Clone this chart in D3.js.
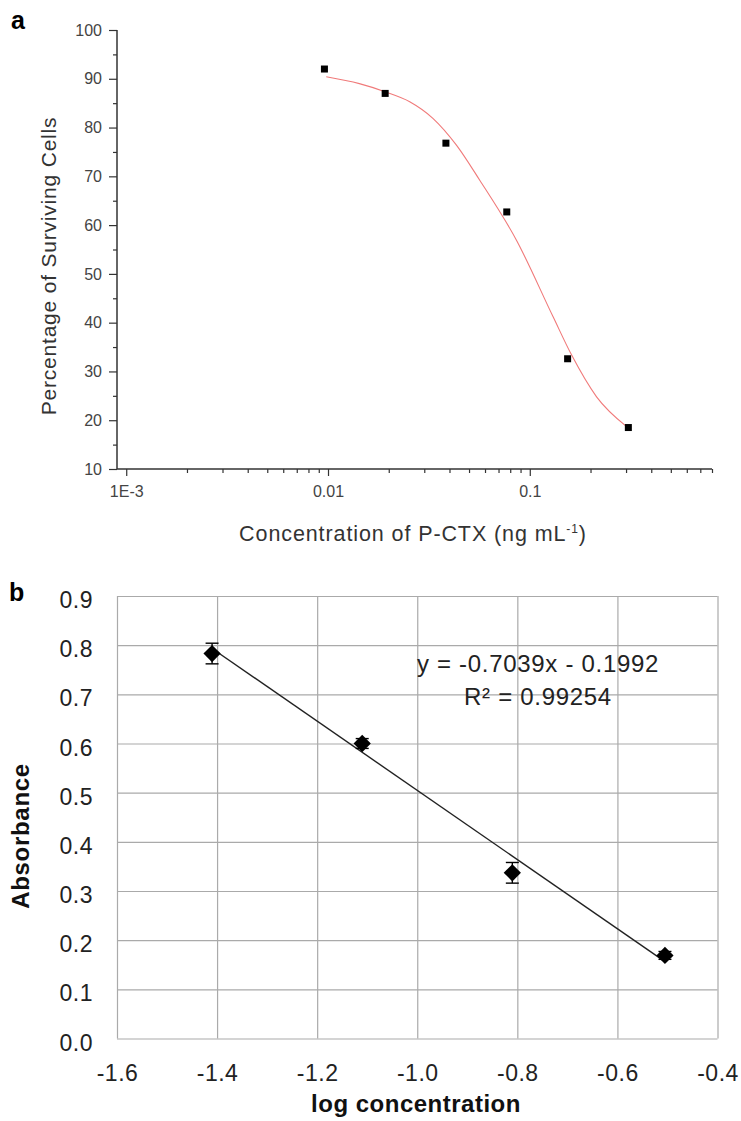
<!DOCTYPE html>
<html>
<head>
<meta charset="utf-8">
<script src="https://cdn.jsdelivr.net/npm/d3@7"></script>
<style>
  body { margin: 0; background: #fff; }
  text { font-family: "Liberation Sans", Arial, sans-serif; }
</style>
</head>
<body>
<svg id="chart" width="741" height="1121"></svg>
<script>

//
//**   Dane   **/
//

// panel a - cell survival vs concentration
var concA = [0.0096, 0.0192, 0.0384, 0.0769, 0.154, 0.308];
var survA = [92.0, 87.0, 76.8, 62.7, 32.6, 18.5];

// fitted curve
var fitConc = [0.0098, 0.0143, 0.0193, 0.0254, 0.0331, 0.0433, 0.0565, 0.0859, 0.1305, 0.161, 0.2143, 0.302];
var fitSurv = [90.4, 89.0, 87.3, 85.3, 81.9, 76.4, 69.2, 56.9, 41.2, 33.4, 24.8, 18.7];

var yTicksA = [10, 20, 30, 40, 50, 60, 70, 80, 90, 100];
var xTicksA = [0.001, 0.01, 0.1];
var xTickLabelsA = ["1E-3", "0.01", "0.1"];

// panel b - calibration
var logConcB = [-1.41, -1.11, -0.81, -0.505];
var absB = [0.783, 0.600, 0.337, 0.169];
var errB = [0.021, 0.010, 0.021, 0.008];
var slopeB = -0.7039;
var interceptB = -0.1992;
var eqLabels = ["y = -0.7039x - 0.1992", "R² = 0.99254"];

var yTicksB = [0, 0.1, 0.2, 0.3, 0.4, 0.5, 0.6, 0.7, 0.8, 0.9];
var xTicksB = [-1.6, -1.4, -1.2, -1.0, -0.8, -0.6, -0.4];

var svg = d3.select("#chart");

//
//**   Panel a   **/
//

svg.append("text")
    .attr("x", 11).attr("y", 29)
    .style("font-size", "25px")
    .style("font-weight", "bold")
    .text("a");

var xA = d3.scaleLog()
    .domain([0.0009, 0.8])
    .range([117, 712]);

var yA = d3.scaleLinear()
    .domain([10, 100])
    .range([469, 30]);

// minor ticks on the log axis
var minorA = [];
[0.001, 0.01, 0.1].forEach(function(dec) {
    for (var k = 2; k <= 9; k++) {
        if (dec * k <= 0.8) minorA.push(dec * k);
    }
});

var gXA = svg.append("g")
    .attr("transform", "translate(0,469)");

gXA.append("g")
    .call(d3.axisBottom(xA).tickValues(minorA).tickSize(4).tickFormat(""))
    .call(function(g) { g.select(".domain").remove(); });

gXA.append("g")
    .call(d3.axisBottom(xA)
        .tickValues(xTicksA)
        .tickSize(7)
        .tickPadding(10)
        .tickFormat(function(d, i) { return xTickLabelsA[i]; }))
    .call(function(g) { g.select(".domain").remove(); });

gXA.append("line")
    .attr("x1", 117).attr("x2", 712)
    .style("stroke", "#333").style("stroke-width", 1.5);

var gYA = svg.append("g")
    .attr("transform", "translate(117,0)");

gYA.append("g")
    .call(d3.axisLeft(yA).tickValues(d3.range(15, 100, 10)).tickSize(4).tickFormat(""))
    .call(function(g) { g.select(".domain").remove(); });

gYA.append("g")
    .call(d3.axisLeft(yA)
        .tickValues(yTicksA)
        .tickSize(8)
        .tickPadding(7))
    .call(function(g) { g.select(".domain").remove(); });

gYA.append("line")
    .attr("y1", 30).attr("y2", 469)
    .style("stroke", "#333").style("stroke-width", 1.5);

svg.selectAll("g").selectAll(".tick line")
    .style("stroke", "#333")
    .style("stroke-width", 1.2);

gXA.selectAll(".tick text")
    .style("font-size", "16px")
    .style("fill", "#444")
    .style("font-family", "'Liberation Sans', Arial, sans-serif");

gYA.selectAll(".tick text")
    .style("font-size", "16px")
    .style("fill", "#444")
    .style("font-family", "'Liberation Sans', Arial, sans-serif");

svg.append("text")
    .attr("transform", "translate(56,266) rotate(-90)")
    .style("text-anchor", "middle")
    .style("font-size", "21px")
    .style("fill", "#333")
    .style("letter-spacing", "0.8px")
    .text("Percentage of Surviving Cells");

var xTitleA = svg.append("text")
    .attr("x", 413).attr("y", 541)
    .style("text-anchor", "middle")
    .style("font-size", "21.5px")
    .style("fill", "#333")
    .style("letter-spacing", "0.9px");
xTitleA.append("tspan").text("Concentration of P-CTX (ng mL");
xTitleA.append("tspan").attr("dy", -8).style("font-size", "12px").text("-1");
xTitleA.append("tspan").attr("dy", 8).text(")");

var fitLine = d3.line()
    .x(function(d) { return xA(d[0]); })
    .y(function(d) { return yA(d[1]); })
    .curve(d3.curveMonotoneX);

svg.append("path")
    .datum(fitConc.map(function(c, i) { return [c, fitSurv[i]]; }))
    .attr("d", fitLine)
    .style("fill", "none")
    .style("stroke", "#f07a7a")
    .style("stroke-width", 1.1);

svg.selectAll("rect.ptA")
    .data(concA)
    .enter()
    .append("rect")
    .attr("class", "ptA")
    .attr("x", function(d) { return xA(d) - 3.5; })
    .attr("y", function(d, i) { return yA(survA[i]) - 3.5; })
    .attr("width", 7)
    .attr("height", 7)
    .style("fill", "#000");

//
//**   Panel b   **/
//

svg.append("text")
    .attr("x", 9).attr("y", 601)
    .style("font-size", "25px")
    .style("font-weight", "bold")
    .text("b");

var xB = d3.scaleLinear()
    .domain([-1.6, -0.4])
    .range([117, 717.5]);

var yB = d3.scaleLinear()
    .domain([0, 0.9])
    .range([1038.5, 596]);

var fmtB = function(d) { return d.toFixed(1); };

// grid
svg.append("g")
    .attr("transform", "translate(0,1038.5)")
    .call(d3.axisBottom(xB)
        .tickValues(xTicksB)
        .tickSize(-(1038.5 - 596))
        .tickPadding(26)
        .tickFormat(fmtB))
    .call(function(g) {
        g.select(".domain").remove();
        g.selectAll(".tick line").style("stroke", "#aaa").style("stroke-width", 1.2);
        g.selectAll(".tick text")
            .style("font-size", "23px")
            .style("fill", "#222")
            .style("letter-spacing", "0.5px")
            .style("font-family", "'Liberation Sans', Arial, sans-serif");
    });

svg.append("g")
    .attr("transform", "translate(117,0)")
    .call(d3.axisLeft(yB)
        .tickValues(yTicksB)
        .tickSize(-(717.5 - 117))
        .tickPadding(24)
        .tickFormat(fmtB))
    .call(function(g) {
        g.select(".domain").remove();
        g.selectAll(".tick line").style("stroke", "#aaa").style("stroke-width", 1.2);
        g.selectAll(".tick text")
            .attr("dy", "0.5em")
            .style("font-size", "23px")
            .style("fill", "#222")
            .style("letter-spacing", "0.5px")
            .style("font-family", "'Liberation Sans', Arial, sans-serif");
    });

svg.append("text")
    .attr("transform", "translate(29,836) rotate(-90)")
    .style("text-anchor", "middle")
    .style("font-size", "24px")
    .style("font-weight", "bold")
    .style("fill", "#111")
    .style("letter-spacing", "0.7px")
    .text("Absorbance");

svg.append("text")
    .attr("x", 416).attr("y", 1112)
    .style("text-anchor", "middle")
    .style("font-size", "24px")
    .style("font-weight", "bold")
    .style("fill", "#111")
    .style("letter-spacing", "0.5px")
    .text("log concentration");

// trend line
var xStart = d3.min(logConcB), xEnd = d3.max(logConcB);
svg.append("line")
    .attr("x1", xB(xStart)).attr("y1", yB(slopeB * xStart + interceptB))
    .attr("x2", xB(xEnd)).attr("y2", yB(slopeB * xEnd + interceptB))
    .style("stroke", "#222")
    .style("stroke-width", 1.4);

svg.selectAll("text.eq")
    .data(eqLabels)
    .enter()
    .append("text")
    .attr("class", "eq")
    .attr("x", 538)
    .attr("y", function(d, i) { return 672 + i * 33; })
    .style("text-anchor", "middle")
    .style("font-size", "24px")
    .style("fill", "#222")
    .style("letter-spacing", "0.7px")
    .text(function(d) { return d; });

// error bars
var errG = svg.selectAll("g.err")
    .data(logConcB)
    .enter()
    .append("g")
    .attr("class", "err")
    .style("stroke", "#000")
    .style("stroke-width", 1.4);

errG.append("line")
    .attr("x1", function(d) { return xB(d); })
    .attr("x2", function(d) { return xB(d); })
    .attr("y1", function(d, i) { return yB(absB[i] + errB[i]); })
    .attr("y2", function(d, i) { return yB(absB[i] - errB[i]); });

errG.append("line")
    .attr("x1", function(d) { return xB(d) - 6.5; })
    .attr("x2", function(d) { return xB(d) + 6.5; })
    .attr("y1", function(d, i) { return yB(absB[i] + errB[i]); })
    .attr("y2", function(d, i) { return yB(absB[i] + errB[i]); });

errG.append("line")
    .attr("x1", function(d) { return xB(d) - 6.5; })
    .attr("x2", function(d) { return xB(d) + 6.5; })
    .attr("y1", function(d, i) { return yB(absB[i] - errB[i]); })
    .attr("y2", function(d, i) { return yB(absB[i] - errB[i]); });

svg.selectAll("path.ptB")
    .data(logConcB)
    .enter()
    .append("path")
    .attr("class", "ptB")
    .attr("d", d3.symbol().type(d3.symbolDiamond2).size(190))
    .attr("transform", function(d, i) { return "translate(" + xB(d) + "," + yB(absB[i]) + ")"; })
    .style("fill", "#000");

</script>
</body>
</html>
